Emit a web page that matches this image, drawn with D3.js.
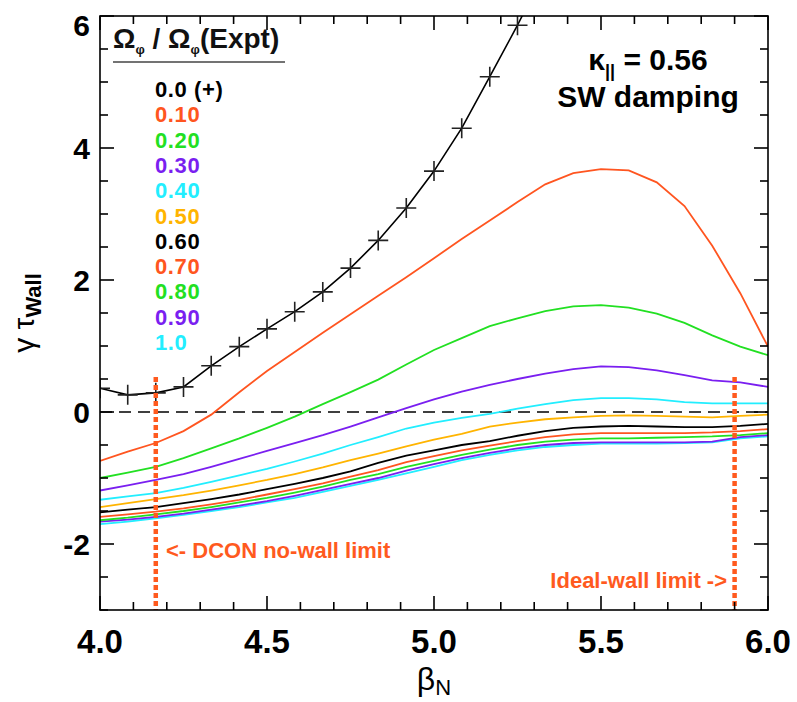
<!DOCTYPE html>
<html>
<head>
<meta charset="utf-8">
<script src="https://cdn.jsdelivr.net/npm/d3@7"></script>
<style>
body { margin: 0; background: #fff; }
svg text { font-family: "Liberation Sans", Arial, sans-serif; }
</style>
</head>
<body>
<svg id="chart" width="797" height="702"></svg>
<script>
// growth rate vs beta_N for a scan of rotation fractions

var betaN = [4.0, 4.083, 4.167, 4.25, 4.333, 4.417, 4.5, 4.583, 4.667, 4.75, 4.833, 4.917,
             5.0, 5.083, 5.167, 5.25, 5.333, 5.417, 5.5, 5.583, 5.667, 5.75, 5.833, 5.917, 6.0];

// no rotation case only computed up to ~5.33 (runs off the top)
var rot00 = [0.36, 0.26, 0.29, 0.38, 0.70, 0.99, 1.26, 1.52, 1.82, 2.18, 2.60, 3.09, 3.65, 4.30, 5.08, 5.86, 6.70];
var rot10 = [-0.74, -0.60, -0.47, -0.29, -0.04, 0.30, 0.62, 0.91, 1.20, 1.48, 1.76, 2.04, 2.33, 2.62, 2.90, 3.18, 3.45, 3.62, 3.68, 3.66, 3.48, 3.12, 2.52, 1.80, 0.99];
var rot20 = [-1.00, -0.92, -0.83, -0.70, -0.55, -0.40, -0.24, -0.07, 0.12, 0.30, 0.49, 0.72, 0.94, 1.12, 1.30, 1.42, 1.53, 1.60, 1.62, 1.58, 1.49, 1.35, 1.16, 0.99, 0.86];
var rot30 = [-1.19, -1.11, -1.03, -0.94, -0.83, -0.71, -0.59, -0.47, -0.35, -0.22, -0.08, 0.06, 0.19, 0.31, 0.41, 0.50, 0.58, 0.65, 0.69, 0.68, 0.63, 0.56, 0.48, 0.45, 0.38];
var rot40 = [-1.33, -1.28, -1.23, -1.15, -1.06, -0.96, -0.86, -0.75, -0.63, -0.50, -0.38, -0.25, -0.16, -0.09, -0.03, 0.05, 0.12, 0.18, 0.21, 0.21, 0.19, 0.15, 0.13, 0.13, 0.13];
var rot50 = [-1.44, -1.38, -1.32, -1.26, -1.19, -1.11, -1.03, -0.94, -0.84, -0.73, -0.63, -0.52, -0.42, -0.33, -0.22, -0.16, -0.11, -0.08, -0.06, -0.05, -0.06, -0.07, -0.08, -0.06, -0.04];
var rot60 = [-1.52, -1.48, -1.44, -1.38, -1.32, -1.25, -1.17, -1.09, -1.00, -0.90, -0.77, -0.66, -0.58, -0.50, -0.44, -0.36, -0.29, -0.24, -0.22, -0.21, -0.22, -0.23, -0.23, -0.21, -0.18];
var rot70 = [-1.59, -1.55, -1.51, -1.46, -1.40, -1.33, -1.25, -1.17, -1.08, -0.98, -0.88, -0.76, -0.67, -0.58, -0.51, -0.44, -0.38, -0.34, -0.32, -0.32, -0.32, -0.32, -0.31, -0.29, -0.26];
var rot80 = [-1.64, -1.60, -1.55, -1.50, -1.44, -1.37, -1.30, -1.22, -1.13, -1.03, -0.94, -0.83, -0.74, -0.65, -0.57, -0.50, -0.45, -0.42, -0.40, -0.40, -0.39, -0.38, -0.37, -0.35, -0.32];
var rot90 = [-1.66, -1.63, -1.59, -1.54, -1.48, -1.42, -1.35, -1.27, -1.18, -1.09, -1.00, -0.89, -0.79, -0.70, -0.62, -0.55, -0.50, -0.47, -0.46, -0.46, -0.46, -0.46, -0.45, -0.38, -0.35];
var rot100 = [-1.70, -1.66, -1.61, -1.56, -1.50, -1.44, -1.37, -1.30, -1.21, -1.12, -1.03, -0.93, -0.83, -0.73, -0.65, -0.58, -0.53, -0.50, -0.48, -0.48, -0.48, -0.47, -0.46, -0.40, -0.37];

var legendLabels = ["0.0 (+)", "0.10", "0.20", "0.30", "0.40", "0.50", "0.60", "0.70", "0.80", "0.90", "1.0"];
var seriesColors = ["#000000", "#ff5520", "#22e022", "#7a1ff0", "#22eeff", "#ffb400",
                    "#000000", "#ff5520", "#22e022", "#7a1ff0", "#22eeff"];
var allSeries = [rot00, rot10, rot20, rot30, rot40, rot50, rot60, rot70, rot80, rot90, rot100];

var xTickLabels = [4.0, 4.5, 5.0, 5.5, 6.0];
var yTickLabels = [-2, 0, 2, 4, 6];

// limits (beta_N) and how high the dotted markers reach
var noWallLimit = 4.167;
var idealWallLimit = 5.9;
var limitTop = 0.53;

var svg = d3.select("#chart");
// NB: "top" is taken by window.top, so prefix these
var plotL = 100, plotR = 768, plotT = 16, plotB = 610;

var x = d3.scaleLinear().domain([4, 6]).range([plotL, plotR]);
var y = d3.scaleLinear().domain([-3, 6]).range([plotB, plotT]);

svg.append("clipPath").attr("id", "plotclip")
    .append("rect").attr("x", plotL).attr("y", plotT)
    .attr("width", plotR - plotL).attr("height", plotB - plotT);

var plot = svg.append("g").attr("clip-path", "url(#plotclip)");

// zero line
plot.append("line")
    .attr("x1", plotL).attr("x2", plotR)
    .attr("y1", y(0)).attr("y2", y(0))
    .attr("stroke", "#000").attr("stroke-width", 1.6)
    .attr("stroke-dasharray", "12,7");

var line = d3.line()
    .x(function(d, i) { return x(betaN[i]); })
    .y(function(d) { return y(d); });

// draw back to front so the first ones sit on top like the original
for (var s = allSeries.length - 1; s >= 0; s--) {
    plot.append("path")
        .datum(allSeries[s])
        .attr("d", line)
        .attr("fill", "none")
        .attr("stroke", seriesColors[s])
        .attr("stroke-width", s == 0 ? 1.6 : 1.8);
}

// + markers on the zero rotation curve
plot.selectAll(".plus")
    .data(rot00)
    .enter()
    .append("path")
    .attr("class", "plus")
    .attr("d", function(d, i) {
        var cx = x(betaN[i]), cy = y(d);
        return "M" + (cx - 10) + "," + cy + "H" + (cx + 10) + "M" + cx + "," + (cy - 10) + "V" + (cy + 10);
    })
    .attr("stroke", "#222").attr("stroke-width", 1.6);

// dotted limit markers
[noWallLimit, idealWallLimit].forEach(function(b) {
    svg.append("line")
        .attr("x1", x(b)).attr("x2", x(b))
        .attr("y1", y(limitTop)).attr("y2", plotB)
        .attr("stroke", "#ff5a1e").attr("stroke-width", 4.5)
        .attr("stroke-dasharray", "5,3");
});

// frame + ticks
var axisG = svg.append("g").attr("stroke", "#000").attr("stroke-width", 1.6);
axisG.append("rect").attr("x", plotL).attr("y", plotT)
    .attr("width", plotR - plotL).attr("height", plotB - plotT)
    .attr("fill", "none");

d3.range(0, 21).forEach(function(k) {
    var b = 4 + k * 0.1;
    var len = (k % 5 == 0) ? 14 : 8;
    axisG.append("line").attr("x1", x(b)).attr("x2", x(b)).attr("y1", plotB).attr("y2", plotB - len);
    axisG.append("line").attr("x1", x(b)).attr("x2", x(b)).attr("y1", plotT).attr("y2", plotT + len);
});
d3.range(0, 19).forEach(function(k) {
    var g = -3 + k * 0.5;
    var len = (g % 2 == 0) ? 14 : 8;
    axisG.append("line").attr("x1", plotL).attr("x2", plotL + len).attr("y1", y(g)).attr("y2", y(g));
    axisG.append("line").attr("x1", plotR).attr("x2", plotR - len).attr("y1", y(g)).attr("y2", y(g));
});

svg.selectAll(".xlab")
    .data(xTickLabels)
    .enter()
    .append("text")
    .attr("x", function(d) { return x(d); })
    .attr("y", 653)
    .attr("text-anchor", "middle")
    .attr("font-size", 33).attr("font-weight", "bold")
    .text(function(d) { return d.toFixed(1); });

svg.selectAll(".ylab")
    .data(yTickLabels)
    .enter()
    .append("text")
    .attr("x", 90)
    .attr("y", function(d) { return Math.max(y(d), 25) + 11; })
    .attr("text-anchor", "end")
    .attr("font-size", 30).attr("font-weight", "bold")
    .text(function(d) { return d; });

// axis titles
var xt = svg.append("text").attr("x", 434).attr("y", 690)
    .attr("text-anchor", "middle").attr("font-size", 32);
xt.append("tspan").text("β");
xt.append("tspan").attr("font-size", 22).attr("dy", 5).text("N");

var yt = svg.append("text")
    .attr("transform", "translate(34,313) rotate(-90)")
    .attr("text-anchor", "middle").attr("font-size", 30);
yt.append("tspan").text("γ τ");
yt.append("tspan").attr("font-size", 22).attr("font-weight", "bold").attr("dy", 7).text("Wall");

// legend
var lt = svg.append("text").attr("x", 113).attr("y", 48)
    .attr("font-size", 28).attr("font-weight", "bold").attr("fill", "#111");
lt.append("tspan").text("Ω");
lt.append("tspan").attr("font-size", 13).attr("dy", 6).text("φ");
lt.append("tspan").attr("dy", -6).text(" / Ω");
lt.append("tspan").attr("font-size", 13).attr("dy", 6).text("φ");
lt.append("tspan").attr("dy", -6).text("(Expt)");
svg.append("line").attr("x1", 113).attr("x2", 285).attr("y1", 62).attr("y2", 62)
    .attr("stroke", "#444").attr("stroke-width", 1.5);

svg.selectAll(".leg")
    .data(legendLabels)
    .enter()
    .append("text")
    .attr("x", 155)
    .attr("y", function(d, i) { return 97 + i * 25.3; })
    .attr("font-size", 22).attr("font-weight", "bold")
    .attr("letter-spacing", 0.6)
    .attr("fill", function(d, i) { return seriesColors[i]; })
    .text(function(d) { return d; });

// annotations
var kt = svg.append("text").attr("x", 648).attr("y", 70)
    .attr("text-anchor", "middle").attr("font-size", 30).attr("font-weight", "bold");
kt.append("tspan").text("κ");
kt.append("tspan").attr("font-size", 18).attr("dy", 7).text("||");
kt.append("tspan").attr("dy", -7).text(" = 0.56");
svg.append("text").attr("x", 648).attr("y", 107)
    .attr("text-anchor", "middle").attr("font-size", 30).attr("font-weight", "bold")
    .text("SW damping");

svg.append("text").attr("x", 166).attr("y", 558)
    .attr("font-size", 22).attr("font-weight", "bold").attr("fill", "#ff5a1e")
    .text("<- DCON no-wall limit");
svg.append("text").attr("x", 727).attr("y", 588).attr("text-anchor", "end")
    .attr("font-size", 22).attr("font-weight", "bold").attr("fill", "#ff5a1e")
    .text("Ideal-wall limit ->");
</script>
</body>
</html>
